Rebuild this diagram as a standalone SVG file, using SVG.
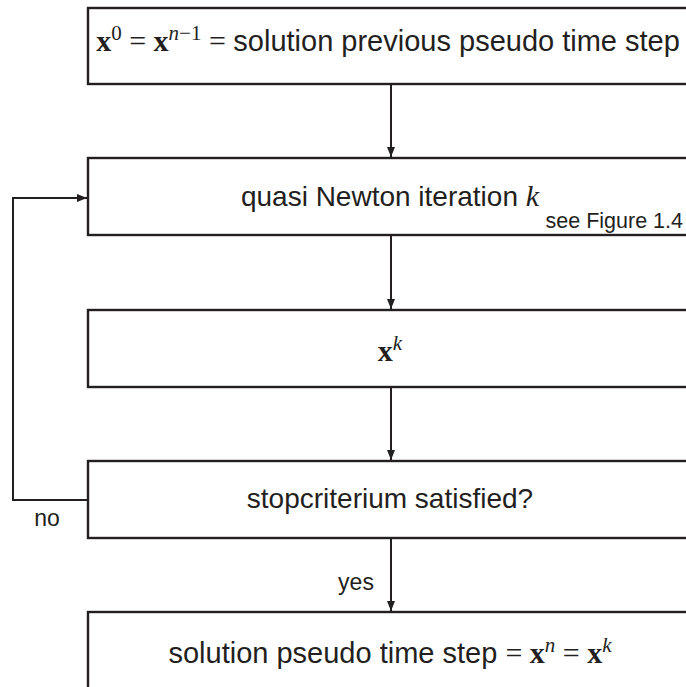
<svg xmlns="http://www.w3.org/2000/svg" width="686" height="687" viewBox="0 0 686 687">
<defs>
<style>
.box{fill:#fff;stroke:#231f20;stroke-width:2.4}
.t{font-family:"Liberation Sans",Arial,sans-serif;font-size:28px;fill:#231f20;text-anchor:middle}
.t29{font-size:29px}
.s{font-family:"Liberation Sans",Arial,sans-serif;font-size:21.5px;fill:#231f20}
.mx{font-family:"Liberation Serif","Times New Roman",serif;font-weight:bold;font-size:30px}
.mi{font-family:"Liberation Serif","Times New Roman",serif;font-style:italic}
.mr{font-family:"Liberation Serif","Times New Roman",serif;font-size:30px}
.sup{font-size:21px}
.ln{fill:none;stroke:#231f20;stroke-width:2}
</style>
<marker id="ar" viewBox="0 0 10 8" refX="10" refY="4" markerWidth="10" markerHeight="8" markerUnits="userSpaceOnUse" orient="auto">
<path d="M0,0 L10,4 L0,8 z" fill="#231f20"/>
</marker>
</defs>
<rect width="686" height="687" fill="#fff"/>
<g id="connectors">
<line class="ln" x1="391" y1="84" x2="391" y2="157" marker-end="url(#ar)"/>
<line class="ln" x1="391" y1="235" x2="391" y2="309" marker-end="url(#ar)"/>
<line class="ln" x1="391" y1="387" x2="391" y2="460" marker-end="url(#ar)"/>
<line class="ln" x1="391" y1="538" x2="391" y2="611" marker-end="url(#ar)"/>
<polyline class="ln" points="88,500 13,500 13,198 87,198" marker-end="url(#ar)"/>
<text class="s" x="47" y="526" text-anchor="middle" style="font-size:23px">no</text>
<text class="s" x="356" y="590" text-anchor="middle" style="font-size:23px">yes</text>
</g>
<g id="n1">
<rect class="box" x="88" y="8" width="610" height="76"/>
<text class="t t29" x="388" y="51"><tspan class="mx">x</tspan><tspan class="mr sup" dy="-11">0</tspan><tspan class="mr" dy="11"> = </tspan><tspan class="mx">x</tspan><tspan class="mi sup" dy="-11">n</tspan><tspan class="mr sup">−1</tspan><tspan class="mr" dy="11"> = </tspan>solution previous pseudo time step</text>
</g>
<g id="n2">
<rect class="box" x="88" y="158" width="610" height="77"/>
<text class="t" x="390" y="206">quasi Newton iteration <tspan class="mi" style="font-size:30px">k</tspan></text>
<text class="s" x="683" y="228" text-anchor="end">see Figure 1.4</text>
</g>
<g id="n3">
<rect class="box" x="88" y="310" width="610" height="77"/>
<text class="t" x="390" y="361"><tspan class="mx">x</tspan><tspan class="mi sup" dy="-11">k</tspan></text>
</g>
<g id="n4">
<rect class="box" x="88" y="461" width="610" height="77"/>
<text class="t" x="390" y="508">stopcriterium satisfied?</text>
</g>
<g id="n5">
<rect class="box" x="88" y="612" width="610" height="80"/>
<text class="t t29" x="390" y="663">solution pseudo time step <tspan class="mr">= </tspan><tspan class="mx">x</tspan><tspan class="mi sup" dy="-11">n</tspan><tspan class="mr" dy="11"> = </tspan><tspan class="mx">x</tspan><tspan class="mi sup" dy="-11">k</tspan></text>
</g>
</svg>
